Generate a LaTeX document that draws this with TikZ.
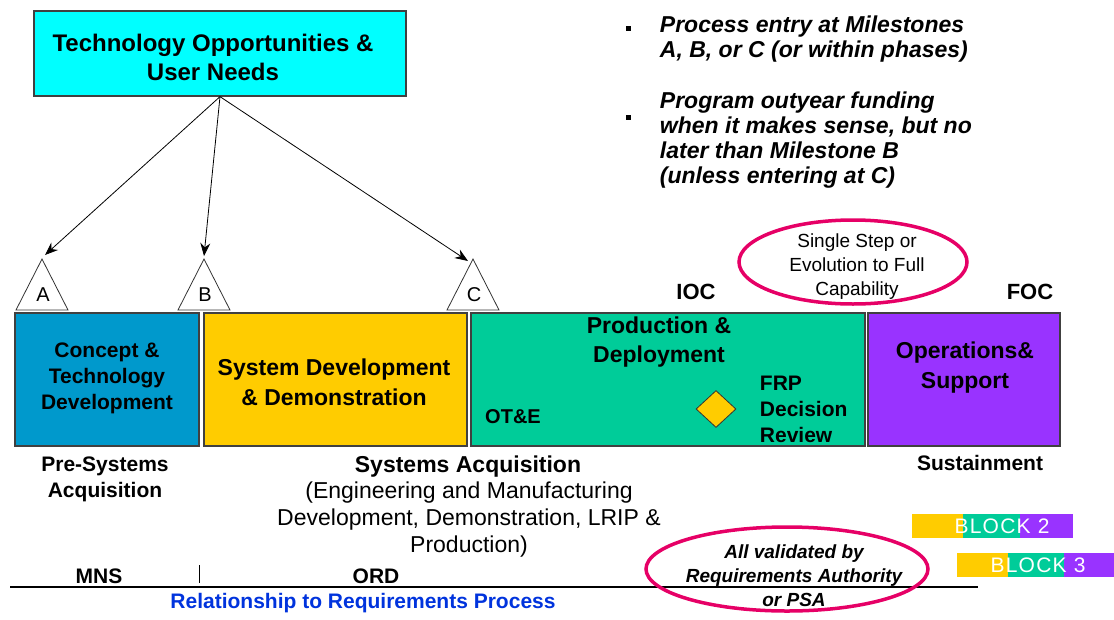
\documentclass[tikz,border=0pt]{standalone}
\usepackage{fontspec}
\setmainfont{Liberation Sans}
\usetikzlibrary{shapes.geometric,arrows.meta}

\definecolor{techcyan}{RGB}{0,255,255}
\definecolor{cptblue}{RGB}{0,153,204}
\definecolor{sddyellow}{RGB}{255,204,0}
\definecolor{pdgreen}{RGB}{0,204,153}
\definecolor{ospurple}{RGB}{153,51,255}
\definecolor{ringpink}{RGB}{230,0,102}
\definecolor{reqblue}{RGB}{0,51,221}

\tikzset{
  phase/.style={draw=black!75, line width=1.3pt, inner sep=0pt},
  ring/.style={ellipse, draw=ringpink, line width=3.5pt, inner sep=0pt},
  lbl/.style={inner sep=0.75pt, align=center},
  boldlbl/.style={lbl, font=\fontsize{21}{26}\selectfont\bfseries},
  biglbl/.style={lbl, font=\fontsize{23}{30}\selectfont\bfseries},
  notelbl/.style={inner sep=0.75pt, align=left, font=\fontsize{23}{25}\selectfont\bfseries\itshape},
  blocklbl/.style={inner sep=0pt, text=white, font=\fontsize{21}{24}\selectfont\addfontfeature{LetterSpace=6}},
}

\begin{document}
\begin{tikzpicture}[x=1pt,y=1pt,yscale=-1,xscale=1]
  \useasboundingbox (0,0) rectangle (1114,619);

  %Shape: Rectangle [id:tech]
  \node[phase, fill=techcyan, minimum width=372, minimum height=85] (tech) at (220,53.5) {};
  % Text Node
  \node[lbl, font=\fontsize{24}{29}\selectfont\bfseries] (techlbl) at (213,57.5) {Technology Opportunities \&\\User Needs};

  %Shape: Triangles with milestone letters
  \foreach \m/\x/\tx/\ty in {A/42/45/255, B/204/204/256, C/473/468/261} {
    \draw[black!80, line width=0.8pt, fill=white] (\x,259) -- (\x+26,310) -- (\x-26,310) -- cycle;
    \node[lbl, font=\fontsize{20}{24}\selectfont] (ms\m) at (\x+1,295) {\m};
    \coordinate (tip\m) at (\tx,\ty);
    \draw[line width=0.8pt, -{Stealth[length=13pt,width=10pt]}] (tech.south) -- (tip\m);
  }

  %Shape: Phase boxes
  \node[phase, fill=cptblue, minimum width=184, minimum height=133] (cpt) at (107,379.5) {};
  \node[phase, fill=sddyellow, minimum width=263, minimum height=133] (sdd) at (335.5,379.5) {};
  \node[phase, fill=pdgreen, minimum width=394, minimum height=133] (pd) at (668,379.5) {};
  \node[phase, fill=ospurple, minimum width=192, minimum height=133] (os) at (964,379.5) {};

  % Text Node
  \node[boldlbl] (cptlbl) at (107,378) {Concept \&\\Technology\\Development};
  % Text Node
  \node[biglbl] (sddlbl) at (334,382) {System Development\\\& Demonstration};
  % Text Node
  \node[biglbl, font=\fontsize{23}{29}\selectfont\bfseries] (pdlbl) at (659,342.5) {Production \&\\Deployment};
  % Text Node
  \node[lbl, font=\fontsize{20}{24}\selectfont\bfseries] (otelbl) at (513,417) {OT\&E};
  %Shape: Diamond
  \node[diamond, draw=black!80, line width=0.8pt, fill=sddyellow, minimum width=40, minimum height=37, inner sep=0pt] (frp) at (716,409) {};
  % Text Node
  \node[boldlbl, anchor=west, align=left] (frplbl) at (759,409) {FRP\\Decision\\Review};
  % Text Node
  \node[biglbl] (oslbl) at (965,368) {Operations\&\\Support};

  % Text Node
  \node[lbl, font=\fontsize{22}{26}\selectfont\bfseries] (ioc) at (696,292) {IOC};
  % Text Node
  \node[lbl, font=\fontsize{22}{26}\selectfont\bfseries] (foc) at (1030,292) {FOC};

  %Shape: Ellipse
  \node[ring, minimum width=228, minimum height=84] (evo) at (853,262) {};
  % Text Node
  \node[lbl, font=\fontsize{19}{24}\selectfont] (evolbl) at (857,267) {Single Step or\\Evolution to Full\\Capability};

  %Shape: Bullets
  \node[fill=black, inner sep=0pt, minimum size=5] (dot1) at (628,28) {};
  \node[fill=black, inner sep=0pt, minimum size=5] (dot2) at (628,117) {};
  % Text Node
  \node[notelbl, anchor=west] (note1) at (659,39.5) {Process entry at Milestones\\A, B, or C (or within phases)};
  % Text Node
  \node[notelbl, anchor=west] (note2) at (659,140.5) {Program outyear funding\\when it makes sense, but no\\later than Milestone B\\(unless entering at C)};

  % Text Node
  \node[boldlbl] (presys) at (105,479) {Pre-Systems\\Acquisition};
  % Text Node
  \node[biglbl] (sysacq) at (468,467) {Systems Acquisition};
  % Text Node
  \node[lbl, font=\fontsize{23}{27}\selectfont] (sysacqsub) at (469,520) {(Engineering and Manufacturing\\Development, Demonstration, LRIP \&\\Production)};
  % Text Node
  \node[boldlbl] (sustain) at (980,463) {Sustainment};

  %Shape: Requirements line
  \draw[line width=1.3pt] (10,587) -- (978,587);
  \draw[line width=1pt] (199,565) -- (199,583);
  % Text Node
  \node[boldlbl] (mns) at (99,576) {MNS};
  % Text Node
  \node[boldlbl] (ord) at (376,576) {ORD};
  % Text Node
  \node[boldlbl, text=reqblue] (reqproc) at (363,603) {Relationship to Requirements Process};

  %Shape: Ellipse
  \node[ring, minimum width=282, minimum height=84] (valid) at (787,569) {};
  % Text Node
  \node[lbl, font=\fontsize{19}{24}\selectfont\bfseries\itshape] (validlbl) at (794,576) {All validated by\\Requirements Authority\\or PSA};

  %Shape: Block bars
  \foreach \n/\a/\b/\c/\d/\y in {2/912/963/1020/1073/514, 3/957/1008/1064/1114/553} {
    \fill[sddyellow] (\a,\y) rectangle (\b,\y+24);
    \fill[pdgreen] (\b,\y) rectangle (\c,\y+24);
    \fill[ospurple] (\c,\y) rectangle (\d,\y+24);
  }
  % Text Node
  \node[blocklbl] (block2) at (1002,526) {BLOCK\ 2};
  % Text Node
  \node[blocklbl] (block3) at (1038,565) {BLOCK\ 3};

\end{tikzpicture}
\end{document}
